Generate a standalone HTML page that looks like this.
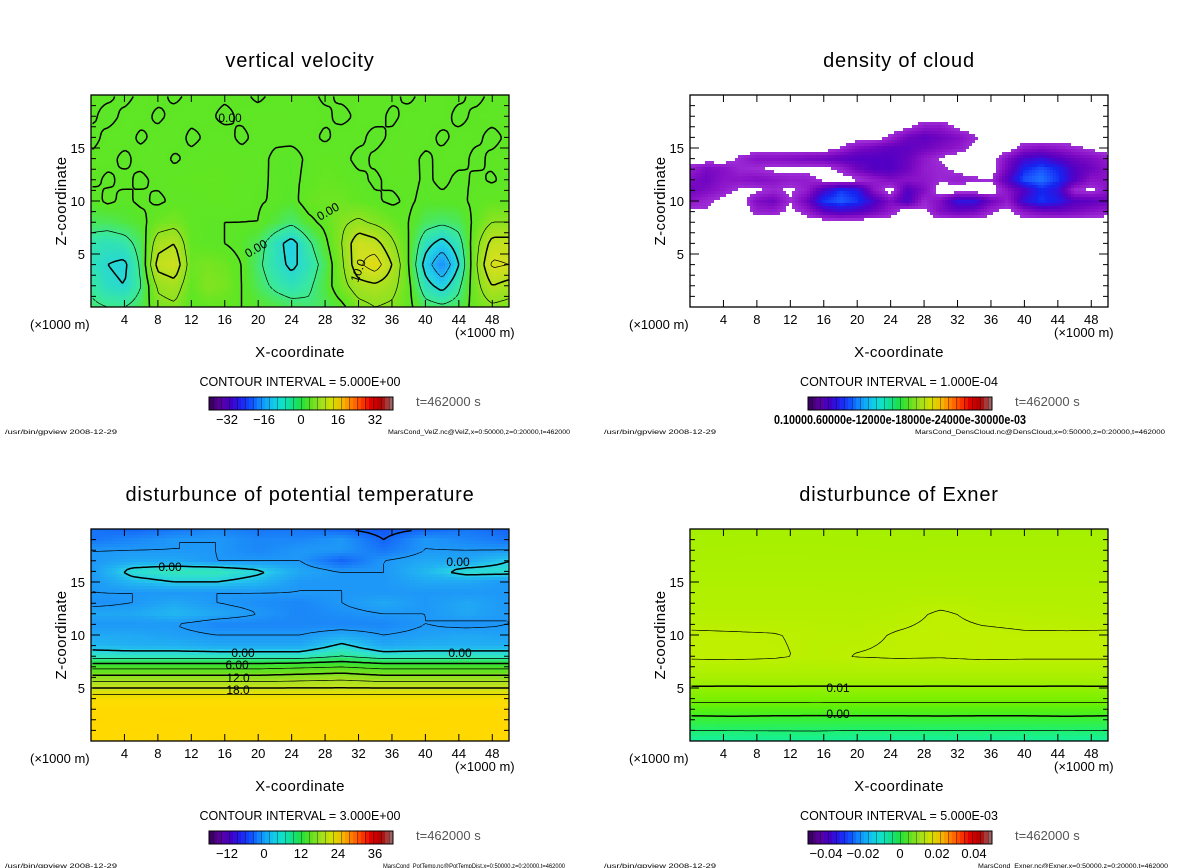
<!DOCTYPE html>
<html><head><meta charset="utf-8">
<style>
html,body{margin:0;padding:0;background:#fff;}
svg{display:block;font-family:"Liberation Sans",sans-serif;}
.title{font-size:20px;letter-spacing:0.8px;}
.tick{font-size:13px;}
.axt{font-size:15px;letter-spacing:0.4px;}
.ci{font-size:12.5px;}
.foot{font-size:6px;}
.clab{font-size:12px;}
</style></head>
<body>
<svg id="fig" width="1200" height="868" viewBox="0 0 1200 868" xmlns="http://www.w3.org/2000/svg"></svg>
<script>
// ---------- DATA ----------
const xTicks=[4,8,12,16,20,24,28,32,36,40,44,48];
const zTicks=[5,10,15];

// vertical velocity grid: x = 0..50 step 2, z rows 20..0 step 2
const wX=[0,2,4,6,8,10,12,14,16,18,20,22,24,26,28,30,32,34,36,38,40,42,44,46,48,50];
const wZ=[20,18,16,14,12,10,8,6,4,2,0];
const wGrid=[
[0.3,0.3,-0.4,0.3,0.4,-0.3,0.3,0.4,0.3,0.3,-0.3,0.3,0.5,0.4,-0.3,0.3,0.4,0.3,0.3,-0.3,0.4,0.3,0.3,-0.4,0.3,0.4],
[0.3,-0.5,0.3,0.5,-0.3,0.4,0.5,0.3,-0.4,0.3,0.5,0.6,0.5,0.4,0.3,-0.4,0.3,0.5,-0.3,0.4,0.3,0.5,-0.4,0.3,0.4,0.5],
[-0.5,0.4,0.6,-0.3,0.5,0.8,-0.4,0.3,0.6,-0.4,0.5,0.3,0.4,0.5,-0.3,0.6,0.4,-0.5,0.3,0.7,0.5,-0.3,0.4,0.3,-0.4,0.3],
[0.3,0.5,-0.4,0.6,0.8,-0.3,0.5,0.6,0.8,0.7,0.5,-0.3,-0.6,0.3,1,0.5,-0.5,0.3,0.8,0.5,-0.3,0.4,0.6,-0.4,0.3,0.5],
[0.5,-0.3,0.4,-0.4,0.5,0.8,1,1.2,1,0.6,0.3,-0.2,-0.5,0.5,1.5,1,0.4,-0.3,0.5,0.8,-0.4,0.5,-0.5,0.3,-0.2,0.5],
[-1,0.5,-0.5,0.5,-0.5,0.5,0.5,0.8,1,0.5,0.2,-0.2,-1,1.5,2,2,1,0.3,-0.5,0.5,-0.8,-0.5,-0.5,0.5,1,0.8],
[-3,-3,-2,-1,2,3,0.5,0,0,0,0,-2,-4,-1,1,4,6,4,2,0,-3,-4,-3,1,5,5],
[-7,-8,-7,-3,8,10,1,0,0,-1,-3,-8,-12,-6,-1,5,14,12,6,0,-8,-12,-7,3,12,12],
[-8,-10,-11,-4,12,14,2,3,2,0,-4,-8,-11,-8,-3,4,14,18,10,0,-12,-20,-10,4,16,15],
[-6,-9,-10,-5,6,8,1,4,3,0,-3,-6,-8,-6,-2,3,8,9,7,1,-8,-12,-6,3,10,8],
[-4,-5,-5,-3,3,4,0,1,1,0,-1,-2,-3,-4,-3,-1,3,5,4,1,-3,-4,-3,2,4,3]];
const wLevels=[-20,-15,-10,-5,0,5,10,15,20];

// cloud density (units 1e-4): x 0..50 step 2, z rows 18..8 step 1
const cX=wX;
const cZ=[18,17,16,15,14,13,12,11,10,9,8];
const cGrid=[
[0,0,0,0,0,0,0,0,0,0,0,0,0,0,0,0,0,0,0,0,0,0,0,0,0,0],
[0,0,0,0,0,0,0,0,0,0,0,0,0,0.3,0.9,0.9,0.3,0,0,0,0,0,0,0,0,0],
[0,0,0,0,0,0,0,0,0,0,0,0,0.6,1.5,1.8,1.5,1.2,0.6,0,0,0,0,0,0,0,0],
[0,0,0,0,0,0,0,0,0,0.5,1.2,1.5,1.8,1.8,1.5,1.2,0.9,0.3,0,0,0.9,1.1,0.9,0.6,0.3,0],
[0,0,0,0.6,1.1,1.1,1.2,1.4,1.5,1.8,2,2,2,1.6,0.9,0.4,0,0,0,1.2,2.2,2.5,2,1.5,1.2,0.8],
[0.7,1.3,1.1,0.6,0.5,0.3,0.3,0.2,0.2,0.6,1.5,2,2,1.5,0.8,0.6,0.3,0,0,1.5,3,3.5,3,2,1.5,1],
[1.2,1.5,1,1,1.2,1,0.8,0.8,0.3,0.1,0.3,0.8,1.2,1,0.9,0.6,0.8,0.6,0.5,2,3.5,3.8,3.2,2,1,1],
[1.5,1.2,0.8,0.3,0.3,0.6,0.3,0.8,2.2,3.2,2.8,1,0.1,2,1.2,0,0,0,0,1,2,3,2.5,0.5,0.3,1],
[1,0.6,0.2,0,1.2,1.5,0.5,1.5,3.2,3.6,3.2,2.2,1.2,2.2,0.6,1.2,2.6,2.6,1.5,0.8,2.5,3.2,2.8,2,1.8,1.5],
[0.2,0.4,0,0,0.7,0.8,0.2,0.8,1.8,2.2,2,1.5,0.8,0,0.3,1.2,1.6,1.4,0.6,0.2,1,1.4,1.5,1.3,1,0.8],
[0,0,0,0,0,0,0,0,0,0,0,0,0,0,0,0,0,0,0,0,0,0,0,0,0,0]];

// potential temperature disturbance: x 0..50 step 5, z rows 20..0 step 1
const tX=[0,5,10,15,20,25,30,35,40,45,50];
const tZ=[20,19,18,17,16,15,14,13,12,11,10,9,8,7,6,5,4,3,2,1,0];
const tGrid=[
[-5,-6,-5,-4,-5,-5,-6,-7,-6,-5,-6],
[-5,-4,-3,-3,-4,-4,-3,-6,-3,-4,-5],
[-3,-3,-3,-3,-4,-3,-3,-5,-3,-3,-3],
[-3,-2,-2,-3,-3,-3,-6,-3,-2,-2,0],
[-3,1,2,2,0.5,-2,-3,-3,-1,1,1],
[-3,-1,0,0,-1,-3,-3,-3,-2,-2,-3],
[-3,-3,-3,-3,-3,-3,-3,-3,-3,-3,-3],
[-3.5,-3,-2,-3,-3.5,-4,-3,-2,-3,-2,-3],
[-2,-2,-1,-2,-3,-4,-3.5,-3,-3,-2,-3],
[-3,-3,-3,-4,-4,-4,-4,-4,-3,-3.5,-3],
[-2,-2,-2.5,-3,-3,-3,-2,-3,-2.5,-2,-2.5],
[-1,-1.5,-1.5,-2,-2,-2,0.5,-2,-1.5,-1.5,-1.5],
[1.5,1.5,1.5,1.5,1.5,1.5,3,1.5,1.5,1.5,1.5],
[8,8,8,8,8,8.5,9,8,8,8,8],
[13,13,13,13,13,13.5,14,13,13,13,13],
[18,18,18,18,18,18,18,18,18,18,18],
[23,23,23,23,23,23,23,23,23,23,23],
[25,25,25,25,25,25,25,25,25,25,25],
[25.5,25,25.5,25,25,25.5,25,25,25.5,25,25],
[25,25.5,25,25,25.5,25,25,25.5,25,25,25.5],
[25.5,25,25,25.5,25,25,25.5,25,25,25.5,25]];
const tLevels=[-9,-6,-3,0,3,6,9,12,15,18,21];

// Exner disturbance (units 1e-3): x 0..50 step 5, z rows 20..0 step 2
const eX=tX;
const eZ=[20,18,16,14,12,10,8,6,4,2,0];
const eGrid=[
[12,12,12,12.2,12,12,11.8,12,12,12,12],
[12.5,12.5,12.6,12.5,12.5,12.4,12.5,12.5,12.5,12.5,12.5],
[13,13,13,13,13,13,13,13,13,13,13],
[13.5,13.5,13.5,13.5,13.4,13.5,13.6,13.5,13.5,13.5,13.5],
[14,14,14,14,14,14.3,15.3,14.5,14.3,14.2,14],
[15.3,15.2,15.1,14.6,14.5,15.2,15.5,15.4,15.2,15.2,15.3],
[15.4,15.5,15.3,14.6,15.1,15.3,15.2,15.5,15.4,15.4,15.4],
[12.5,12.5,12.5,12.5,12.5,12.5,12.5,12.5,12.5,12.5,12.5],
[6.5,6.4,6.5,6.4,6.5,6.5,6.4,6.5,6.5,6.4,6.5],
[-1.5,-1.3,-1.5,-1.6,-1.5,-1.5,-1.4,-1.5,-1.5,-1.3,-1.5],
[-8.5,-8.5,-8.2,-8,-8.5,-8.5,-8.5,-8.4,-8.5,-8.5,-8.5]];
const eLevels=[-5,0,5,10,15];

// colour stops
const wStops=[[-40,"#5a00a0"],[-30,"#2030ff"],[-20,"#1e90ff"],[-12,"#20d0e8"],[-6,"#38e8a0"],[-1,"#58e62a"],[1,"#62e622"],[5,"#8ee220"],[10,"#b4e01e"],[15,"#d4e01e"],[20,"#f0d400"],[30,"#ff6000"],[40,"#c00000"]];
const cStops=[[0.4,"#a030d8"],[1,"#8a12c8"],[1.5,"#6e04c0"],[2,"#5400c4"],[2.5,"#3410dc"],[3,"#1424f0"],[3.5,"#1a56ff"],[4,"#2090ff"]];
const tStops=[[-9,"#0a3ce8"],[-6,"#1464f8"],[-3,"#1e98f8"],[-1,"#22b8f0"],[0,"#28d0e6"],[1.5,"#30e4c4"],[3,"#30e890"],[6,"#30e040"],[9,"#50e020"],[12,"#80e020"],[15,"#a8e020"],[18,"#c8e41e"],[21,"#e6e000"],[24,"#ffdc00"],[27,"#ffd400"],[32,"#ffb000"]];
const eStops=[[-10,"#10f0b0"],[-5,"#20f070"],[0,"#40f022"],[5,"#70f000"],[10,"#98f000"],[12.5,"#a8f000"],[15,"#bcf000"],[17,"#ccf000"]];

const rainbow=["#3c0064","#5a00a0","#4000c8","#2020f0","#1050ff","#1090ff","#10c0f0","#10e0d0","#10e090","#20e040","#60e020","#a0e020","#d0e000","#f0c000","#ff8000","#ff4000","#e00000","#b00000","#a06060"];

// ---------- HELPERS ----------
const NS="http://www.w3.org/2000/svg";
const svg=document.getElementById('fig');
function el(tag,attrs,parent){const e=document.createElementNS(NS,tag);for(const k in attrs)e.setAttribute(k,attrs[k]);(parent||svg).appendChild(e);return e;}
function hex(h){return [parseInt(h.substr(1,2),16),parseInt(h.substr(3,2),16),parseInt(h.substr(5,2),16)];}
function cmap(stops,v){
 if(v<=stops[0][0])return stops[0][1];
 for(let i=0;i<stops.length-1;i++){
  if(v<=stops[i+1][0]){const t=(v-stops[i][0])/(stops[i+1][0]-stops[i][0]);const a=hex(stops[i][1]),b=hex(stops[i+1][1]);
   return "rgb("+a.map((c,k)=>Math.round(c+(b[k]-c)*t)).join(",")+")";}
 }
 return stops[stops.length-1][1];
}
function sample(grid,xs,zsDesc,x,z){
 let i=0;while(i<xs.length-2&&x>xs[i+1])i++;
 const tx=Math.max(0,Math.min(1,(x-xs[i])/(xs[i+1]-xs[i])));
 if(z>zsDesc[0])return grid[0][i]*(1-tx)+grid[0][i+1]*tx;
 if(z<zsDesc[zsDesc.length-1]){const r=grid[grid.length-1];return r[i]*(1-tx)+r[i+1]*tx;}
 let j=0;while(j<zsDesc.length-2&&z<zsDesc[j+1])j++;
 const tz=Math.max(0,Math.min(1,(zsDesc[j]-z)/(zsDesc[j]-zsDesc[j+1])));
 const a=grid[j][i],b=grid[j][i+1],c=grid[j+1][i],d=grid[j+1][i+1];
 return (a*(1-tx)+b*tx)*(1-tz)+(c*(1-tx)+d*tx)*tz;
}

function panel(o){
 const L=o.left,T=o.top,W=418,H=212;
 const xs=x=>L+x/50*W, zs=z=>T+H-z/20*H;
 const g=el('g',{});
 
 
 const title=el('text',{x:L+W/2,y:T-28,'text-anchor':'middle',class:'title'},g);title.textContent=o.title;
 
 
 const S=3,nx=Math.ceil(W/S),nz=Math.ceil(H/S);
 const fg=el('g',{'shape-rendering':'crispEdges'},g);
 
 
 const vals=[];
 for(let j=0;j<nz;j++){vals.push([]);for(let i=0;i<nx;i++){
  const px=L+i*S+S/2,pz=T+j*S+S/2;
  const x=(px-L)/W*50,z=(T+H-pz)/H*20;
  const v=o.zoff&&(z>o.zmax||z<o.zmin)?0:sample(o.grid,o.xg,o.zg,x,z);
  vals[j].push(v);
  if(o.cut!==undefined&&v<o.cut)continue;
  const r=el('rect',{x:L+i*S,y:T+j*S,width:Math.min(S,L+W-(L+i*S)),height:Math.min(S,T+H-(T+j*S)),fill:cmap(o.stops,v)},fg);
  
  
 }}
 if(o.levels){
  for(const lev of o.levels){
   let d="";
   for(let j=0;j<nz-1;j++)for(let i=0;i<nx-1;i++){
    const a=vals[j][i],b=vals[j][i+1],c=vals[j+1][i+1],e=vals[j+1][i];
    const x0=L+i*S+S/2,y0=T+j*S+S/2;const pts=[];
    const cr=(p,q,x1,y1,x2,y2)=>{if((p<lev)!==(q<lev)){const t=(lev-p)/(q-p);pts.push([x1+(x2-x1)*t,y1+(y2-y1)*t]);}};
    cr(a,b,x0,y0,x0+S,y0);cr(b,c,x0+S,y0,x0+S,y0+S);cr(c,e,x0+S,y0+S,x0,y0+S);cr(e,a,x0,y0+S,x0,y0);
    for(let k=0;k+1<pts.length;k+=2)d+="M"+pts[k][0].toFixed(1)+" "+pts[k][1].toFixed(1)+"L"+pts[k+1][0].toFixed(1)+" "+pts[k+1][1].toFixed(1);
   }
   if(!d)continue;
   const thick=o.thick(lev);
   const p=el('path',{d:d,fill:'none',stroke:'#000','stroke-width':thick?1.5:0.7,'stroke-dasharray':lev<0?(thick?'5,3':'3,2'):'none'},g);
   
   
  }
 }
 const fr=el('rect',{x:L,y:T,width:W,height:H,fill:'none',stroke:'#000','stroke-width':1.3},g);
 
 
 let td="";
 for(const t of xTicks){const X=xs(t);td+=`M${X} ${T+H}v-7M${X} ${T}v7`;}
 for(let z=1;z<20;z++){const Y=zs(z);const len=z%5===0?9:5;td+=`M${L} ${Y}h${len}M${L+W} ${Y}h${-len}`;}
 const tk=el('path',{d:td,stroke:'#000','stroke-width':1,fill:'none'},g);
 
 
 for(const t of xTicks){const tx=el('text',{x:xs(t),y:T+H+17,'text-anchor':'middle',class:'tick'},g);tx.textContent=t;
  
  }
 for(const t of zTicks){const tx=el('text',{x:L-6,y:zs(t)+5,'text-anchor':'end',class:'tick'},g);tx.textContent=t;
  
  }
 const u1=el('text',{x:L-61,y:T+H+22,class:'tick'},g);u1.textContent="(×1000 m)";
 
 
 const u2=el('text',{x:L+364,y:T+H+30,class:'tick'},g);u2.textContent="(×1000 m)";
 
 
 const xt=el('text',{x:L+W/2,y:T+H+50,'text-anchor':'middle',class:'axt'},g);xt.textContent="X-coordinate";
 
 
 const zt=el('text',{x:0,y:0,'text-anchor':'middle',class:'axt',transform:`translate(${L-25},${T+H/2}) rotate(-90)`},g);zt.textContent="Z-coordinate";
 
 
 const ci=el('text',{x:L+W/2,y:T+H+79,'text-anchor':'middle',class:'ci'},g);ci.textContent="CONTOUR INTERVAL = "+o.ci;
 
 
 const cbx=L+118,cby=T+H+90,cbw=184,cbh=13,n=rainbow.length;
 const cb=el('g',{'shape-rendering':'crispEdges'},g);
 
 
 const ns=46;
 for(let k=0;k<ns;k++){const t=k/(ns-1)*(n-1);const i=Math.min(n-2,Math.floor(t));
  const st=[[0,rainbow[i]],[1,rainbow[i+1]]];
  el('rect',{x:cbx+k*cbw/ns,y:cby,width:cbw/ns+0.3,height:cbh,fill:cmap(st,t-i)},cb);
  if(k%2)el('rect',{x:cbx+k*cbw/ns,y:cby,width:0.8,height:cbh,fill:'rgba(0,0,0,0.35)'},cb);}
 el('rect',{x:cbx,y:cby,width:cbw,height:cbh,fill:'none',stroke:'#000','stroke-width':1},cb);
 if(o.cbLabels){o.cbLabels.forEach((s,k)=>{const tx=el('text',{x:cbx+18+k*(cbw-36)/(o.cbLabels.length-1),y:cby+27,'text-anchor':'middle',class:'tick'},g);tx.textContent=s;
  
  });}
 else{const tx=el('text',{x:cbx-34,y:cby+27,class:'tick',textLength:252,lengthAdjust:'spacingAndGlyphs','font-weight':'bold'},g);tx.textContent="0.10000.60000e-12000e-18000e-24000e-30000e-03";
  
  }
 const tt=el('text',{x:L+325,y:cby+9,class:'tick',fill:'#555'},g);tt.textContent="t=462000 s";
 
 
 const f1=el('text',{x:L-86,y:cby+37,class:'foot',textLength:112,lengthAdjust:'spacingAndGlyphs'},g);f1.textContent="/usr/bin/gpview  2008-12-29";
 
 
 const f2=el('text',{x:o.fx,y:cby+37,class:'foot',textLength:o.fw,lengthAdjust:'spacingAndGlyphs'},g);f2.textContent=o.foot;
 
 
 (o.labels||[]).forEach(lb=>{const tx=el('text',{x:lb[1],y:lb[2],'text-anchor':'middle',class:'clab',transform:lb[3]?`rotate(${lb[3]} ${lb[1]} ${lb[2]})`:''},g);tx.textContent=lb[0];
  
  });
}

panel({name:'vertical-velocity',left:91,top:95,title:'vertical velocity',grid:wGrid,xg:wX,zg:wZ,stops:wStops,levels:wLevels,thick:v=>v%10===0,
 ci:'5.000E+00',cbLabels:['−32','−16','0','16','32'],foot:'MarsCond_VelZ.nc@VelZ,x=0:50000,z=0:20000,t=462000',fx:388,fw:182,
 labels:[['0.00',230,122,0],['0.00',258,252,-30],['10.0',362,272,-70],['0.00',330,215,-30]]});
panel({name:'cloud-density',left:690,top:95,title:'density of cloud',grid:cGrid,xg:cX,zg:cZ,stops:cStops,cut:0.45,zoff:true,zmin:8,zmax:18,
 ci:'1.000E-04',cbLabels:null,foot:'MarsCond_DensCloud.nc@DensCloud,x=0:50000,z=0:20000,t=462000',fx:915,fw:250});
panel({name:'potential-temperature',left:91,top:529,title:'disturbunce of potential temperature',grid:tGrid,xg:tX,zg:tZ,stops:tStops,levels:tLevels,thick:v=>v%6===0,
 ci:'3.000E+00',cbLabels:['−12','0','12','24','36'],foot:'MarsCond_PotTemp.nc@PotTempDist,x=0:50000,z=0:20000,t=462000',fx:383,fw:182,
 labels:[['0.00',170,571],['0.00',458,566],['0.00',243,657],['6.00',237,669],['12.0',238,682],['18.0',238,694],['0.00',460,657]]});
panel({name:'exner',left:690,top:529,title:'disturbunce of Exner',grid:eGrid,xg:eX,zg:eZ,stops:eStops,levels:eLevels,thick:v=>v%10===0,
 ci:'5.000E-03',cbLabels:['−0.04','−0.02','0','0.02','0.04'],foot:'MarsCond_Exner.nc@Exner,x=0:50000,z=0:20000,t=462000',fx:978,fw:190,
 labels:[['0.01',838,692],['0.00',838,718]]});
</script>
</body></html>
